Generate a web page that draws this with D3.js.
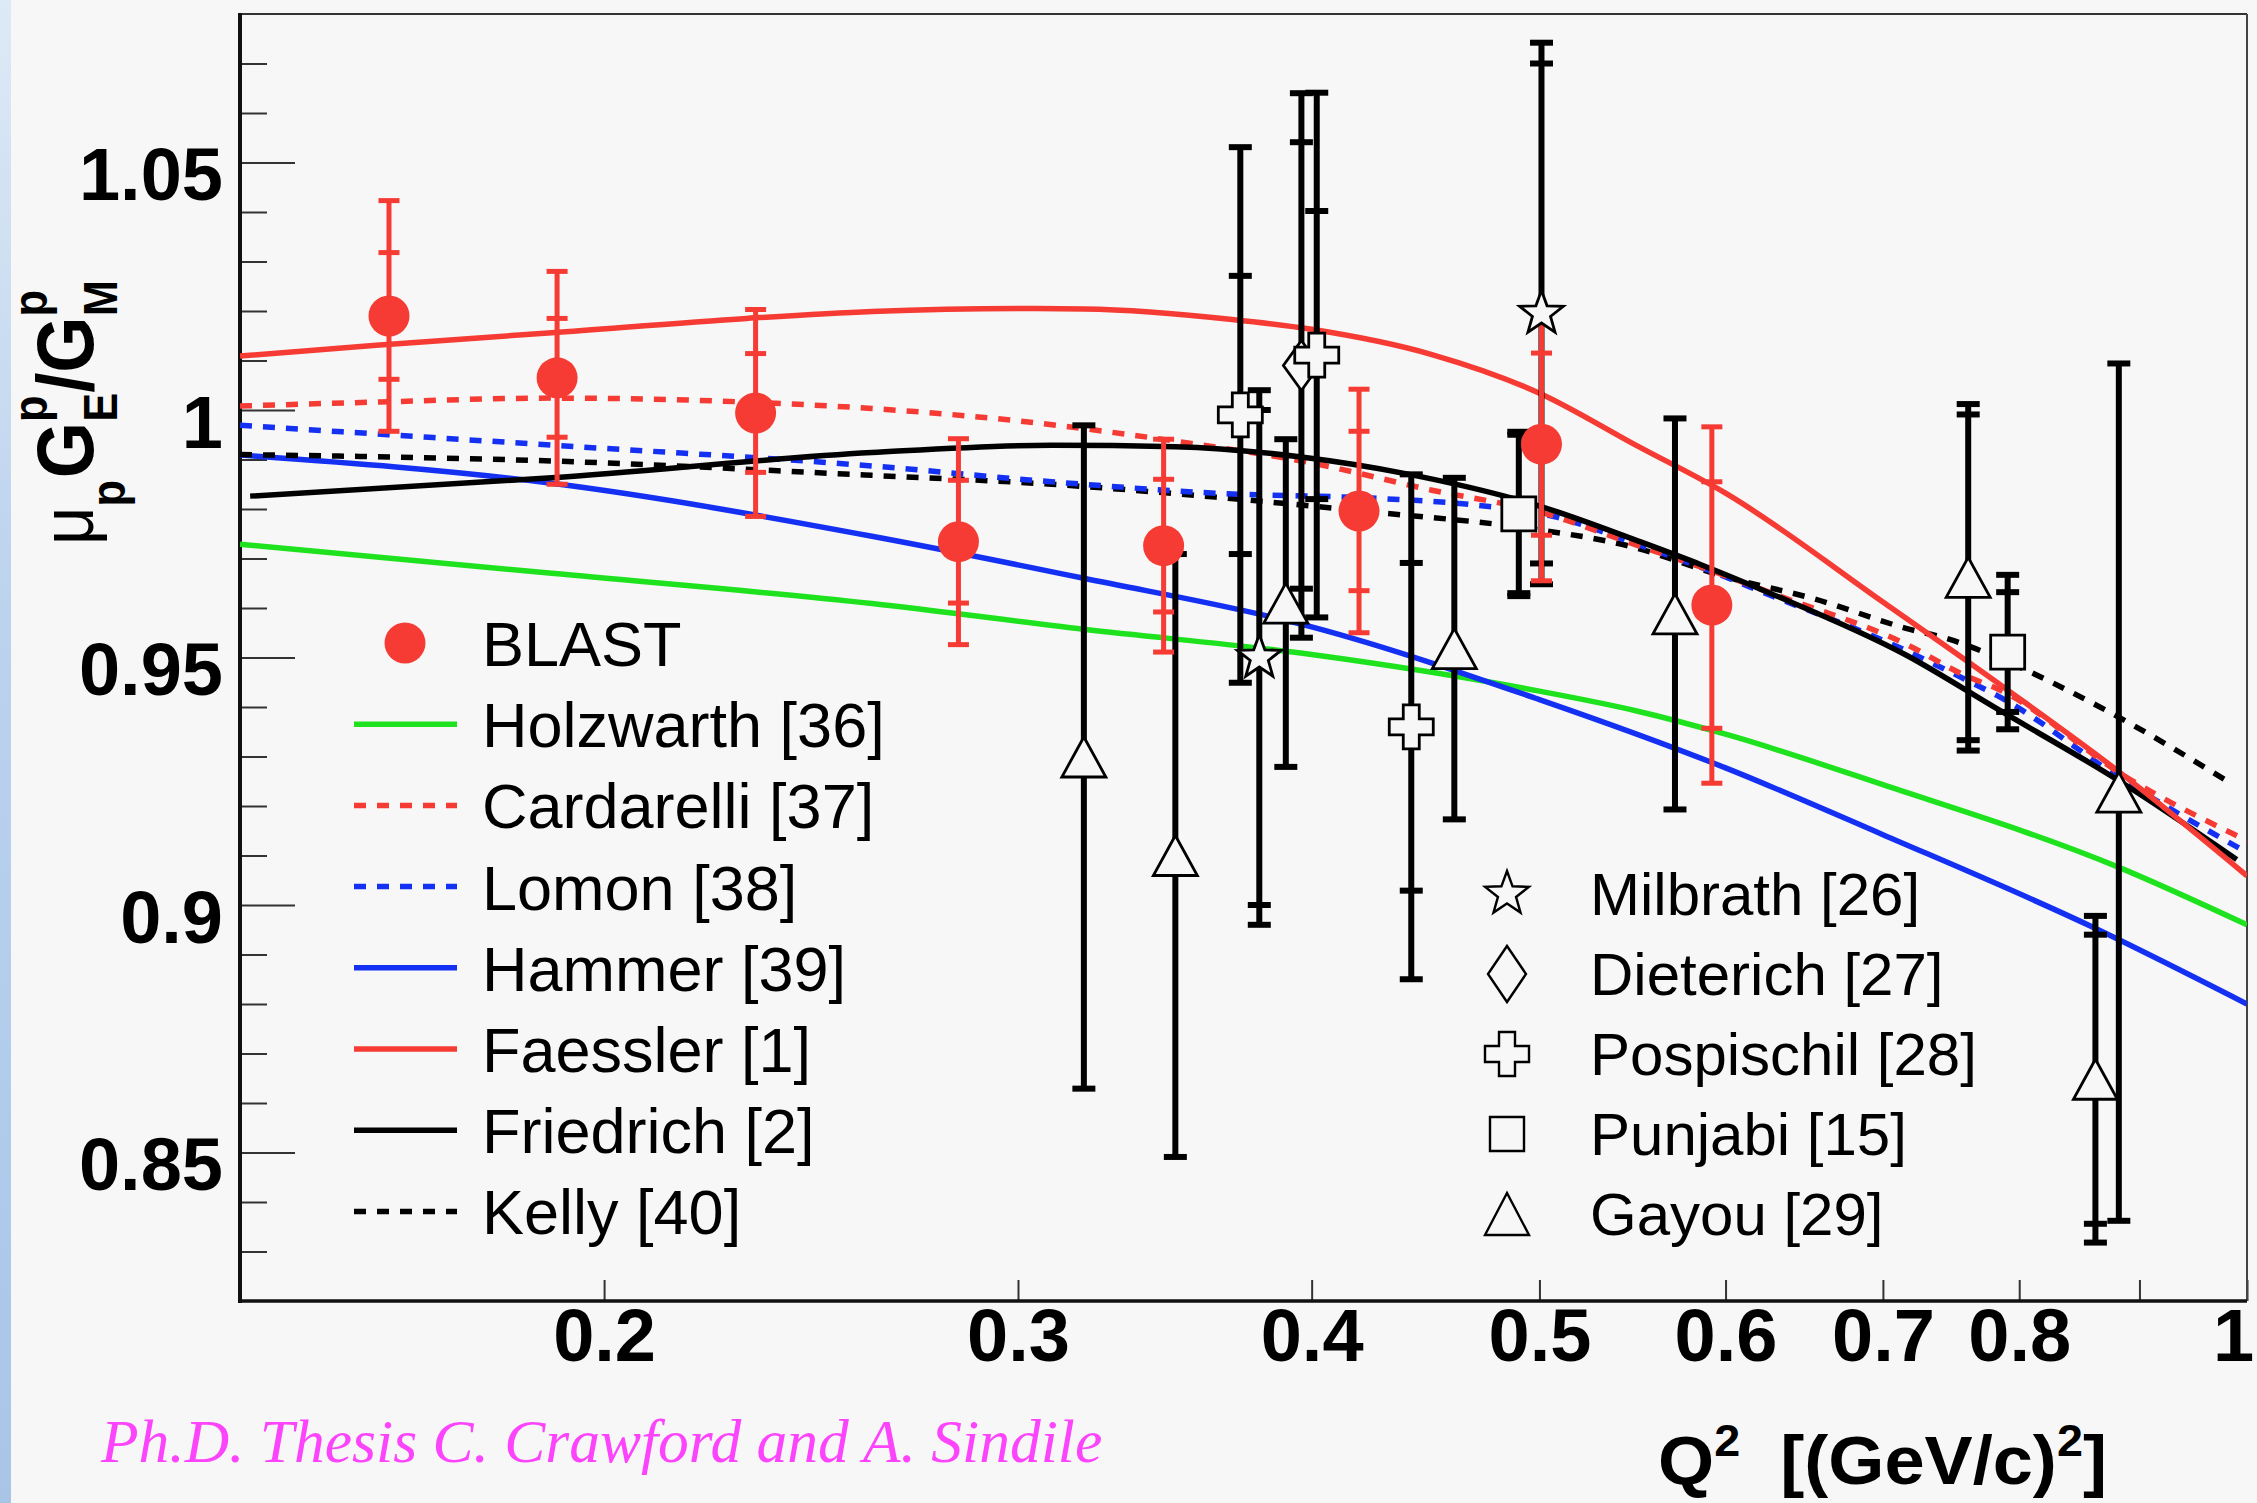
<!DOCTYPE html>
<html><head><meta charset="utf-8">
<script src="https://cdn.jsdelivr.net/npm/d3@7"></script>
<style>html,body{margin:0;padding:0;background:#f7f7f7;}svg{display:block;}</style>
</head><body>
<script>
// ---------------- DATA ----------------
const blastQ2    = [0.162, 0.191, 0.232, 0.283, 0.346, 0.419, 0.501, 0.592];
const blastRatio = [1.0190, 1.0065, 0.9994, 0.9734, 0.9726, 0.9796, 0.9931, 0.9606];
const blastStat  = [0.0128, 0.0120, 0.0120, 0.0124, 0.0134, 0.0161, 0.0184, 0.0249];
const blastTotal = [0.0233, 0.0215, 0.0209, 0.0208, 0.0215, 0.0246, 0.0276, 0.0360];

const milbrathQ2 = [0.380, 0.501];
const milbrathRatio = [0.9500, 1.0195];
const milbrathStat = [0.0500, 0.0505];
const milbrathTotal = [0.0540, 0.0547];

const dieterichQ2 = [0.396];
const dieterichRatio = [1.0090];
const dieterichStat = [0.0451];
const dieterichTotal = [0.0550];

const pospischilQ2 = [0.373, 0.402, 0.441];
const pospischilRatio = [0.9990, 1.0111, 0.9360];
const pospischilStat = [0.0281, 0.0291, 0.0331];
const pospischilTotal = [0.0541, 0.0530, 0.0510];

const punjabiQ2 = [0.490, 0.791];
const punjabiRatio = [0.9790, 0.9511];
const punjabiStat = [0.0160, 0.0121];
const punjabiTotal = [0.0166, 0.0156];

const gayouQ2 = [0.320, 0.350, 0.390, 0.460, 0.571, 0.761, 0.862, 0.882];
const gayouRatio = [0.9299, 0.9100, 0.9610, 0.9518, 0.9588, 0.9662, 0.8648, 0.9228];
const gayouStat = [null, null, null, null, null, 0.0329, 0.0292, null];
const gayouTotal = [0.0670, 0.0609, 0.0331, 0.0345, 0.0395, 0.0350, 0.0330, 0.0866];

const holzwarthQ2 = [0.14, 0.19, 0.26, 0.32, 0.40, 0.50, 0.55, 0.60, 0.70, 0.88, 1.0];
const holzwarthRatio = [0.9729, 0.9670, 0.9609, 0.9557, 0.9506, 0.9432, 0.9392, 0.9345, 0.9243, 0.9078, 0.8960];

const cardarelliQ2 = [0.14, 0.16, 0.19, 0.23, 0.26, 0.30, 0.35, 0.40, 0.45, 0.50, 0.55, 0.60, 0.626, 0.716, 0.76, 0.783, 0.89, 1.0];
const cardarelliRatio = [1.0008, 1.0016, 1.0024, 1.0016, 1.0003, 0.9978, 0.9937, 0.9893, 0.9838, 0.9794, 0.9727, 0.9665, 0.9632, 0.9527, 0.9462, 0.9437, 0.9256, 0.9130];

const lomonQ2 = [0.14, 0.19, 0.26, 0.31, 0.364, 0.4285, 0.465, 0.509, 0.547, 0.585, 0.626, 0.716, 0.76, 0.783, 0.89, 1.0];
const lomonRatio = [0.9969, 0.9929, 0.9887, 0.9855, 0.9832, 0.9821, 0.9810, 0.9783, 0.9733, 0.9683, 0.9627, 0.9514, 0.9454, 0.9423, 0.9246, 0.9106];

const hammerQ2 = [0.14, 0.19, 0.26, 0.32, 0.40, 0.50, 0.60, 0.70, 0.86, 1.0];
const hammerRatio = [0.9909, 0.9852, 0.9745, 0.9660, 0.9562, 0.9415, 0.9277, 0.9142, 0.8955, 0.8800];

const faesslerQ2 = [0.14, 0.16, 0.19, 0.23, 0.26, 0.30, 0.32, 0.37, 0.40, 0.45, 0.50, 0.55, 0.60, 0.70, 0.79, 0.88, 1.0];
const faesslerRatio = [1.0109, 1.0131, 1.0156, 1.0185, 1.0199, 1.0205, 1.0204, 1.0183, 1.0163, 1.0112, 1.0034, 0.9928, 0.9832, 0.9612, 0.9436, 0.9273, 0.9059];

const friedrichQ2 = [0.1414, 0.19, 0.26, 0.31, 0.35, 0.396, 0.439, 0.50, 0.5525, 0.5854, 0.626, 0.716, 0.783, 0.88, 0.99];
const friedrichRatio = [0.9826, 0.9863, 0.9914, 0.9929, 0.9926, 0.9905, 0.9871, 0.9806, 0.9733, 0.9688, 0.9631, 0.9505, 0.9396, 0.9254, 0.9092];

const kellyQ2 = [0.14, 0.19, 0.26, 0.31, 0.364, 0.4285, 0.487, 0.547, 0.60, 0.655, 0.716, 0.748, 0.783, 0.872, 0.985];
const kellyRatio = [0.9910, 0.9897, 0.9868, 0.9850, 0.9824, 0.9792, 0.9765, 0.9724, 0.9663, 0.9618, 0.9559, 0.9536, 0.9500, 0.9392, 0.9245];

const xTickValues = [0.2, 0.3, 0.4, 0.5, 0.6, 0.7, 0.8, 0.9, 1.0];
const xTickLabels = ["0.2", "0.3", "0.4", "0.5", "0.6", "0.7", "0.8", "", "1"];
const yMajorValues = [0.85, 0.90, 0.95, 1.00, 1.05];
const yMajorLabels = ["0.85", "0.9", "0.95", "1", "1.05"];
const yMinorValues = [0.83,0.84,0.86,0.87,0.88,0.89,0.91,0.92,0.93,0.94,0.96,0.97,0.98,0.99,1.01,1.02,1.03,1.04,1.06,1.07];

const curveNames = ["Holzwarth [36]", "Cardarelli [37]", "Lomon [38]", "Hammer [39]", "Faessler [1]", "Friedrich [2]", "Kelly [40]"];
const pointNames = ["Milbrath [26]", "Dieterich [27]", "Pospischil [28]", "Punjabi [15]", "Gayou [29]"];

// ---------------- STYLE ----------------
const W = 2257, H = 1503;
const L = 240, R = 2247, T = 14, B = 1301;
const RED = "#f53b33", GREEN = "#1ee21e", BLUE = "#1430f2", BLACK = "#000";
const BG = "#f7f7f7";
const FONT = "'Liberation Sans', Arial, Helvetica, sans-serif";

const x = d3.scaleLog().domain([0.14, 1.0]).range([L, R]);
const y = d3.scaleLinear().domain([0.82, 1.08]).range([B, T]);

const svg = d3.select("body").append("svg").attr("width", W).attr("height", H);
svg.append("rect").attr("width", W).attr("height", H).attr("fill", BG);

const defs = svg.append("defs");
const gr = defs.append("linearGradient").attr("id", "stripe").attr("x1", 0).attr("y1", 0).attr("x2", 0).attr("y2", 1);
gr.append("stop").attr("offset", "0%").attr("stop-color", "#dde9f6");
gr.append("stop").attr("offset", "40%").attr("stop-color", "#bcd3ee");
gr.append("stop").attr("offset", "100%").attr("stop-color", "#a8c5e8");
svg.append("rect").attr("x", 0).attr("y", 0).attr("width", 11).attr("height", H).attr("fill", "url(#stripe)");
defs.append("clipPath").attr("id", "plotclip").append("rect")
  .attr("x", L).attr("y", T).attr("width", R - L).attr("height", B - T);

// ---------------- AXES ----------------
const yMinorAxis = d3.axisLeft(y).tickValues(yMinorValues).tickSize(-27).tickFormat("");
const gyMin = svg.append("g").attr("transform", `translate(${L},0)`).call(yMinorAxis);
gyMin.select(".domain").remove();
gyMin.selectAll("line").attr("stroke", "#333").attr("stroke-width", 2);

const yMajorAxis = d3.axisLeft(y).tickValues(yMajorValues).tickSize(-55).tickPadding(17)
  .tickFormat((d, i) => yMajorLabels[i]);
const gy = svg.append("g").attr("transform", `translate(${L},0)`).call(yMajorAxis);
gy.select(".domain").remove();
gy.selectAll("line").attr("stroke", "#333").attr("stroke-width", 2);
gy.selectAll("text").attr("font-family", FONT).attr("font-weight", "bold").attr("font-size", 74)
  .attr("fill", "#000").attr("dy", 37);

const xAxis = d3.axisBottom(x).tickValues(xTickValues).tickSize(-21).tickPadding(4)
  .tickFormat((d, i) => xTickLabels[i]);
const gx = svg.append("g").attr("transform", `translate(0,${B})`).call(xAxis);
gx.select(".domain").remove();
gx.selectAll("line").attr("stroke", "#333").attr("stroke-width", 2);
gx.selectAll("text").attr("font-family", FONT).attr("font-weight", "bold").attr("font-size", 74)
  .attr("fill", "#000").attr("dy", "0.75em");
// keep the last label ("1") inside the picture
gx.selectAll("text").filter((d) => d === 1.0).attr("dx", -14);

// frame
svg.append("line").attr("x1", L).attr("x2", R).attr("y1", T).attr("y2", T).attr("stroke", "#333").attr("stroke-width", 2);
svg.append("line").attr("x1", R).attr("x2", R).attr("y1", T).attr("y2", B).attr("stroke", "#444").attr("stroke-width", 2);
svg.append("line").attr("x1", L).attr("x2", L).attr("y1", T - 1).attr("y2", B + 2).attr("stroke", "#111").attr("stroke-width", 4);
svg.append("line").attr("x1", L - 2).attr("x2", R).attr("y1", B).attr("y2", B).attr("stroke", "#111").attr("stroke-width", 3.5);

// ---------------- CURVES ----------------
const plot = svg.append("g").attr("clip-path", "url(#plotclip)");
const line = d3.line().x(d => x(d[0])).y(d => y(d[1])).curve(d3.curveMonotoneX);
const curves = [
  {q: holzwarthQ2, v: holzwarthRatio, c: GREEN, dash: null},
  {q: hammerQ2, v: hammerRatio, c: BLUE, dash: null},
  {q: kellyQ2, v: kellyRatio, c: BLACK, dash: "12,11"},
  {q: lomonQ2, v: lomonRatio, c: BLUE, dash: "12,11"},
  {q: cardarelliQ2, v: cardarelliRatio, c: RED, dash: "12,11"},
  {q: friedrichQ2, v: friedrichRatio, c: BLACK, dash: null},
  {q: faesslerQ2, v: faesslerRatio, c: RED, dash: null}
];
curves.forEach(cv => {
  plot.append("path").datum(cv.q.map((q, i) => [q, cv.v[i]]))
    .attr("d", line).attr("fill", "none").attr("stroke", cv.c).attr("stroke-width", 5.5)
    .attr("stroke-dasharray", cv.dash);
});

// ---------------- MARKER SHAPES ----------------
function starPath(Ro, ri) {
  const p = [];
  for (let i = 0; i < 10; i++) {
    const a = -Math.PI / 2 + i * Math.PI / 5, rr = i % 2 ? ri : Ro;
    p.push([rr * Math.cos(a), rr * Math.sin(a)]);
  }
  return "M" + p.map(d => d[0].toFixed(2) + "," + d[1].toFixed(2)).join("L") + "Z";
}
function crossPath(s, a) {
  return `M${-a},${-s}L${a},${-s}L${a},${-a}L${s},${-a}L${s},${a}L${a},${a}L${a},${s}L${-a},${s}L${-a},${a}L${-s},${a}L${-s},${-a}L${-a},${-a}Z`;
}
function diamondPath(w, h) { return `M0,${-h / 2}L${w / 2},0L0,${h / 2}L${-w / 2},0Z`; }
function squarePath(s) { return `M${-s / 2},${-s / 2}h${s}v${s}h${-s}Z`; }
function trianglePath(w, h) { return `M0,${-h / 2}L${w / 2},${h / 2}L${-w / 2},${h / 2}Z`; }
const shapes = {
  star: starPath(23, 9.5),
  diamond: diamondPath(36, 50),
  cross: crossPath(22, 8),
  square: squarePath(34),
  triangle: trianglePath(44, 40)
};

// ---------------- ERROR BARS ----------------
function errorBars(g, q2, val, stat, tot, color, lw, capW) {
  q2.forEach((q, i) => {
    const cx = x(q);
    g.append("line").attr("x1", cx).attr("x2", cx)
      .attr("y1", y(val[i] - tot[i])).attr("y2", y(val[i] + tot[i]))
      .attr("stroke", color).attr("stroke-width", lw);
    [val[i] - tot[i], val[i] + tot[i]].forEach(v => {
      g.append("line").attr("x1", cx - capW / 2).attr("x2", cx + capW / 2)
        .attr("y1", y(v)).attr("y2", y(v)).attr("stroke", color).attr("stroke-width", lw);
    });
    if (stat[i] != null) {
      [val[i] - stat[i], val[i] + stat[i]].forEach(v => {
        g.append("line").attr("x1", cx - capW / 2).attr("x2", cx + capW / 2)
          .attr("y1", y(v)).attr("y2", y(v)).attr("stroke", color).attr("stroke-width", lw);
      });
    }
  });
}
const eg = svg.append("g");
const blackSeries = [
  {q: gayouQ2, v: gayouRatio, s: gayouStat, t: gayouTotal, shape: "triangle"},
  {q: milbrathQ2, v: milbrathRatio, s: milbrathStat, t: milbrathTotal, shape: "star"},
  {q: dieterichQ2, v: dieterichRatio, s: dieterichStat, t: dieterichTotal, shape: "diamond"},
  {q: pospischilQ2, v: pospischilRatio, s: pospischilStat, t: pospischilTotal, shape: "cross"},
  {q: punjabiQ2, v: punjabiRatio, s: punjabiStat, t: punjabiTotal, shape: "square"}
];
blackSeries.forEach(s => errorBars(eg, s.q, s.v, s.s, s.t, BLACK, 6, 23));
errorBars(eg, blastQ2, blastRatio, blastStat, blastTotal, RED, 5, 21);

// markers
blackSeries.forEach(s => {
  s.q.forEach((q, i) => {
    eg.append("path").attr("d", shapes[s.shape])
      .attr("transform", `translate(${x(q)},${y(s.v[i])})`)
      .attr("fill", BG).attr("stroke", "#000").attr("stroke-width", 2.8).attr("stroke-linejoin", "miter");
  });
});
blastQ2.forEach((q, i) => {
  eg.append("circle").attr("cx", x(q)).attr("cy", y(blastRatio[i])).attr("r", 20.5).attr("fill", RED);
});

// ---------------- LEGENDS ----------------
const leg = svg.append("g");
const legY0 = 643, legDy = 81.2;
leg.append("circle").attr("cx", 405).attr("cy", legY0).attr("r", 20.5).attr("fill", RED);
leg.append("text").attr("x", 482).attr("y", legY0 + 23).text("BLAST")
  .attr("font-family", FONT).attr("font-size", 63).attr("fill", "#000");
const legStyles = [
  {c: GREEN, dash: null}, {c: RED, dash: "12,11"}, {c: BLUE, dash: "12,11"},
  {c: BLUE, dash: null}, {c: RED, dash: null}, {c: BLACK, dash: null}, {c: BLACK, dash: "12,11"}
];
curveNames.forEach((nm, i) => {
  const yy = legY0 + legDy * (i + 1);
  leg.append("line").attr("x1", 354).attr("x2", 457).attr("y1", yy).attr("y2", yy)
    .attr("stroke", legStyles[i].c).attr("stroke-width", 5.5).attr("stroke-dasharray", legStyles[i].dash);
  leg.append("text").attr("x", 482).attr("y", yy + 23).text(nm)
    .attr("font-family", FONT).attr("font-size", 63).attr("fill", "#000");
});
const legShapes = ["star", "diamond", "cross", "square", "triangle"];
const legShapeSize = {star: starPath(23, 9.5), diamond: diamondPath(38, 56), cross: crossPath(22, 8), square: squarePath(34), triangle: trianglePath(44, 42)};
pointNames.forEach((nm, i) => {
  const yy = 894 + 80 * i;
  leg.append("path").attr("d", legShapeSize[legShapes[i]]).attr("transform", `translate(1507,${yy})`)
    .attr("fill", BG).attr("stroke", "#000").attr("stroke-width", 2.4);
  leg.append("text").attr("x", 1590).attr("y", yy + 21).text(nm)
    .attr("font-family", FONT).attr("font-size", 60).attr("fill", "#000");
});

// ---------------- TITLES ----------------
const yt = svg.append("text").attr("font-family", FONT).attr("font-weight", "bold").attr("font-size", 80).attr("fill", "#000");
yt.append("tspan").text("μ").attr("font-weight", "normal").attr("font-size", 74);
yt.append("tspan").text("p").attr("font-size", 48).attr("dy", 32);
yt.append("tspan").text("G").attr("dy", -32).attr("dx", 2);
yt.append("tspan").text("p").attr("font-size", 48).attr("dy", -46);
yt.append("tspan").text("E").attr("font-size", 48).attr("dy", 70).attr("dx", -29);
yt.append("tspan").text("/").attr("dy", -24);
yt.append("tspan").text("G");
yt.append("tspan").text("p").attr("font-size", 48).attr("dy", -46);
yt.append("tspan").text("M").attr("font-size", 48).attr("dy", 70).attr("dx", -29);
{
  const bb = yt.node().getBBox();
  const s = 265 / bb.width;
  yt.attr("transform", `translate(93,545) rotate(-90) scale(${s},1)`);
}

const xt = svg.append("text").attr("font-family", FONT).attr("font-weight", "bold").attr("font-size", 68).attr("fill", "#000");
xt.append("tspan").text("Q");
xt.append("tspan").text("2").attr("font-size", 44).attr("dy", -28);
xt.append("tspan").text("\u00a0\u00a0[(GeV/c)").attr("dy", 28);
xt.append("tspan").text("2").attr("font-size", 44).attr("dy", -28);
xt.append("tspan").text("]").attr("dy", 28);
{
  const bb = xt.node().getBBox();
  const s = 449 / bb.width;
  xt.attr("transform", `translate(1658,1484) scale(${s},1)`);
}

svg.append("text").attr("x", 101).attr("y", 1462)
  .attr("font-family", "'Liberation Serif', 'Times New Roman', serif").attr("font-style", "italic")
  .attr("font-size", 61.5).attr("fill", "#fb44fb")
  .text("Ph.D. Thesis C. Crawford and A. Sindile");
</script>
</body></html>
